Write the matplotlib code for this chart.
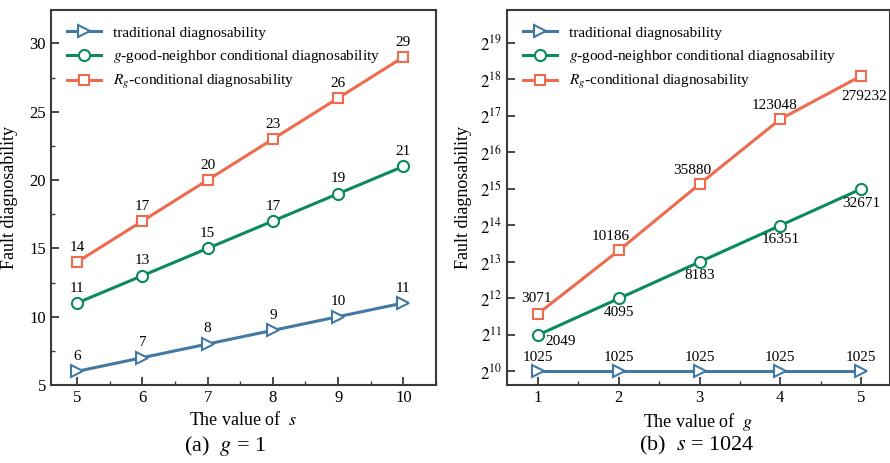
import matplotlib
matplotlib.use("Agg")
import matplotlib.pyplot as plt
from matplotlib.ticker import FixedLocator, MultipleLocator

plt.rcParams['font.family'] = ['Liberation Serif', 'DejaVu Serif']
plt.rcParams['mathtext.fontset'] = 'stix'

# data
s_vals = [5, 6, 7, 8, 9, 10]
trad_a = [6, 7, 8, 9, 10, 11]
good_a = [11, 13, 15, 17, 19, 21]
rg_a = [14, 17, 20, 23, 26, 29]

g_vals = [1, 2, 3, 4, 5]
trad_b = [1025, 1025, 1025, 1025, 1025]
good_b = [2049, 4095, 8183, 16351, 32671]
rg_b = [3071, 10186, 35880, 123048, 279232]

names = ['traditional diagnosability',
         r'$g$-good-neighbor conditional diagnosability',
         r'$R_g$-conditional diagnosability']

c_blue = '#4279a3'
c_green = '#0b8a5c'
c_orange = '#ee6b4d'
spine_c = '#3a3a3a'

fig = plt.figure(figsize=(8.9, 4.63), dpi=100)
ax1 = fig.add_axes([0.0573, 0.1685, 0.4326, 0.81])
ax2 = fig.add_axes([0.5693, 0.1685, 0.4307, 0.81])

styles = [(c_blue, '>', 9), (c_green, 'o', 8), (c_orange, 's', 7)]


def label(ax, x, y, dx, dy, ha='center'):
    # offsets in pixels from the marker centre
    ax.annotate(str(y), (x, y), xytext=(dx, dy), textcoords='offset pixels',
                ha=ha, va='center', fontsize=11)


# panel (a)
for ys, (c, m, ms), name in zip([trad_a, good_a, rg_a], styles, names):
    ax1.plot(s_vals, ys, color=c, marker=m, markersize=ms, markerfacecolor='white',
             markeredgewidth=1.5, linewidth=2.2, label=name)
    for x, y in zip(s_vals, ys):
        label(ax1, x, y, 0, 15)

ax1.set_xlim(4.6, 10.5)
ax1.set_ylim(5, 32.45)
ax1.set_xticks(s_vals)
ax1.xaxis.set_minor_locator(MultipleLocator(0.5))
ax1.set_yticks([5, 10, 15, 20, 25, 30])
ax1.yaxis.set_minor_locator(MultipleLocator(2.5))
ax1.set_xlabel(r'The value of  $s$', fontsize=13, labelpad=4)
ax1.set_ylabel('Fault diagnosability', fontsize=13, labelpad=8)

# panel (b)
for ys, (c, m, ms), name in zip([trad_b, good_b, rg_b], styles, names):
    ax2.plot(g_vals, ys, color=c, marker=m, markersize=ms, markerfacecolor='white',
             markeredgewidth=1.5, linewidth=2.2, label=name)

for x, y in zip(g_vals, trad_b):
    label(ax2, x, y, 0, 14)
label(ax2, g_vals[0], good_b[0], 7, -7, ha='left')
for x, y in zip(g_vals[1:], good_b[1:]):
    label(ax2, x, y, 0, -14)
rg_off = [(-2, 15), (-8, 14), (-7, 14), (-6, 14), (3, -20)]
for x, y, (dx, dy) in zip(g_vals, rg_b, rg_off):
    label(ax2, x, y, dx, dy)

ax2.set_yscale('log', base=2)
ax2.set_xlim(0.61, 5.36)
ax2.set_ylim(2 ** 9.63, 2 ** 19.9)
ax2.set_xticks(g_vals)
ax2.xaxis.set_minor_locator(MultipleLocator(0.5))
ax2.yaxis.set_major_locator(FixedLocator([2 ** k for k in range(10, 20)]))
ax2.set_yticklabels([r'$2^{%d}$' % k for k in range(10, 20)])
ax2.yaxis.set_minor_locator(FixedLocator([]))
ax2.set_xlabel(r'The value of  $g$', fontsize=13, labelpad=4)
ax2.set_ylabel('Fault diagnosability', fontsize=13, labelpad=6)

for ax in (ax1, ax2):
    for sp in ax.spines.values():
        sp.set_color(spine_c)
        sp.set_linewidth(1.5)
    ax.tick_params(which='both', direction='in', top=False, right=False,
                   labelsize=12, color=spine_c)
    ax.tick_params(which='major', length=6, width=1.3)
    ax.tick_params(which='minor', length=3, width=1.0)
    ax.legend(loc='upper left', frameon=False, fontsize=11, handlelength=2.2,
              handletextpad=0.8, borderaxespad=0.6, labelspacing=0.55,
              bbox_to_anchor=(0.003, 0.998))

fig.text(0.253, 0.037, r'(a)  $g$ = 1', ha='center', va='center', fontsize=16)
fig.text(0.783, 0.037, r'(b)  $s$ = 1024', ha='center', va='center', fontsize=16)

fig.savefig('out.png', dpi=100)
